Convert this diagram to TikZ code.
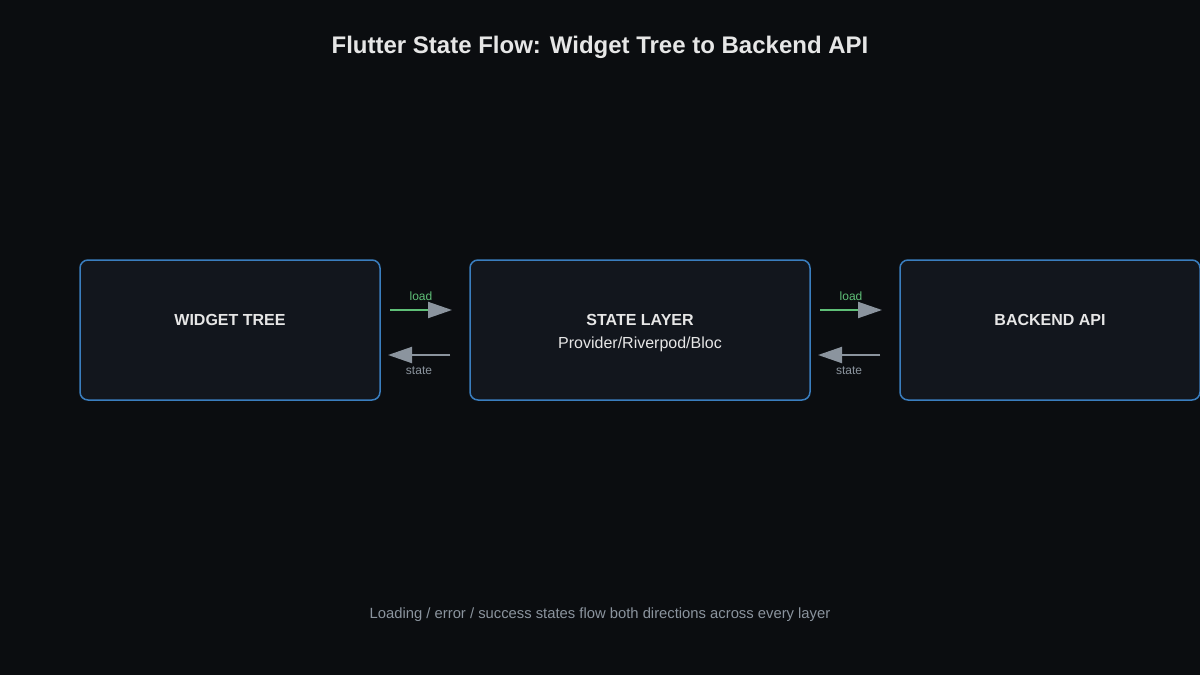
\documentclass[tikz,border=0pt]{standalone}
\usepackage{fontspec}
\setmainfont{Liberation Sans}
\usetikzlibrary{arrows.meta}
\definecolor{bg}{HTML}{0B0D10}
\definecolor{boxf}{HTML}{12161D}
\definecolor{boxd}{HTML}{3A7EBF}
\definecolor{txt}{HTML}{E6E6E6}
\definecolor{grn}{HTML}{5FBF77}
\definecolor{gry}{HTML}{8B949E}
\begin{document}
\begin{tikzpicture}[x=1pt,y=-1pt,
  box/.style={draw=boxd,fill=boxf,line width=1.5pt,rounded corners=8pt},
  lbl/.style={text=txt,font=\fontsize{16}{19}\selectfont\bfseries},
  tip/.style={-{Triangle[length=24pt,width=16pt]},line width=2pt},
  small/.style={font=\fontsize{12}{14}\selectfont}]
\fill[bg] (0,0) rectangle (1200,675);
\useasboundingbox (0,0) rectangle (1200,675);
\node[text=txt,font=\fontsize{24}{28}\selectfont\bfseries] (title) at (600,47) {Flutter State Flow: Widget Tree to Backend API};
\draw[box] (80,260) rectangle (380,400);
\draw[box] (470,260) rectangle (810,400);
\draw[box] (900,260) rectangle (1200,400);
\node[lbl] (w) at (230,320) {WIDGET TREE};
\node[lbl] (s) at (640,320) {STATE LAYER};
\node[text=txt,font=\fontsize{16}{19}\selectfont] (s2) at (640,344) {Provider/Riverpod/Bloc};
\node[lbl] (b) at (1050,320) {BACKEND API};
\foreach \x/\n in {390/a,820/b}{
  \coordinate (l1\n) at (\x,310);
  \coordinate (l2\n) at (\x+62,310);
  \coordinate (r1\n) at (\x+60,355);
  \coordinate (r2\n) at (\x-2,355);
  \draw[tip,draw=grn,-{Triangle[length=24pt,width=16pt,fill=gry,color=gry]}] (l1\n) -- (l2\n);
  \draw[tip,draw=gry,fill=gry] (r1\n) -- (r2\n);
  \node[small,text=grn] (ll\n) at (\x+31,296) {load};
  \node[small,text=gry] (sl\n) at (\x+29,371) {state};
}
\node[text=gry,font=\fontsize{14.8}{18}\selectfont] (foot) at (600,615) {Loading / error / success states flow both directions across every layer};
\end{tikzpicture}
\end{document}
